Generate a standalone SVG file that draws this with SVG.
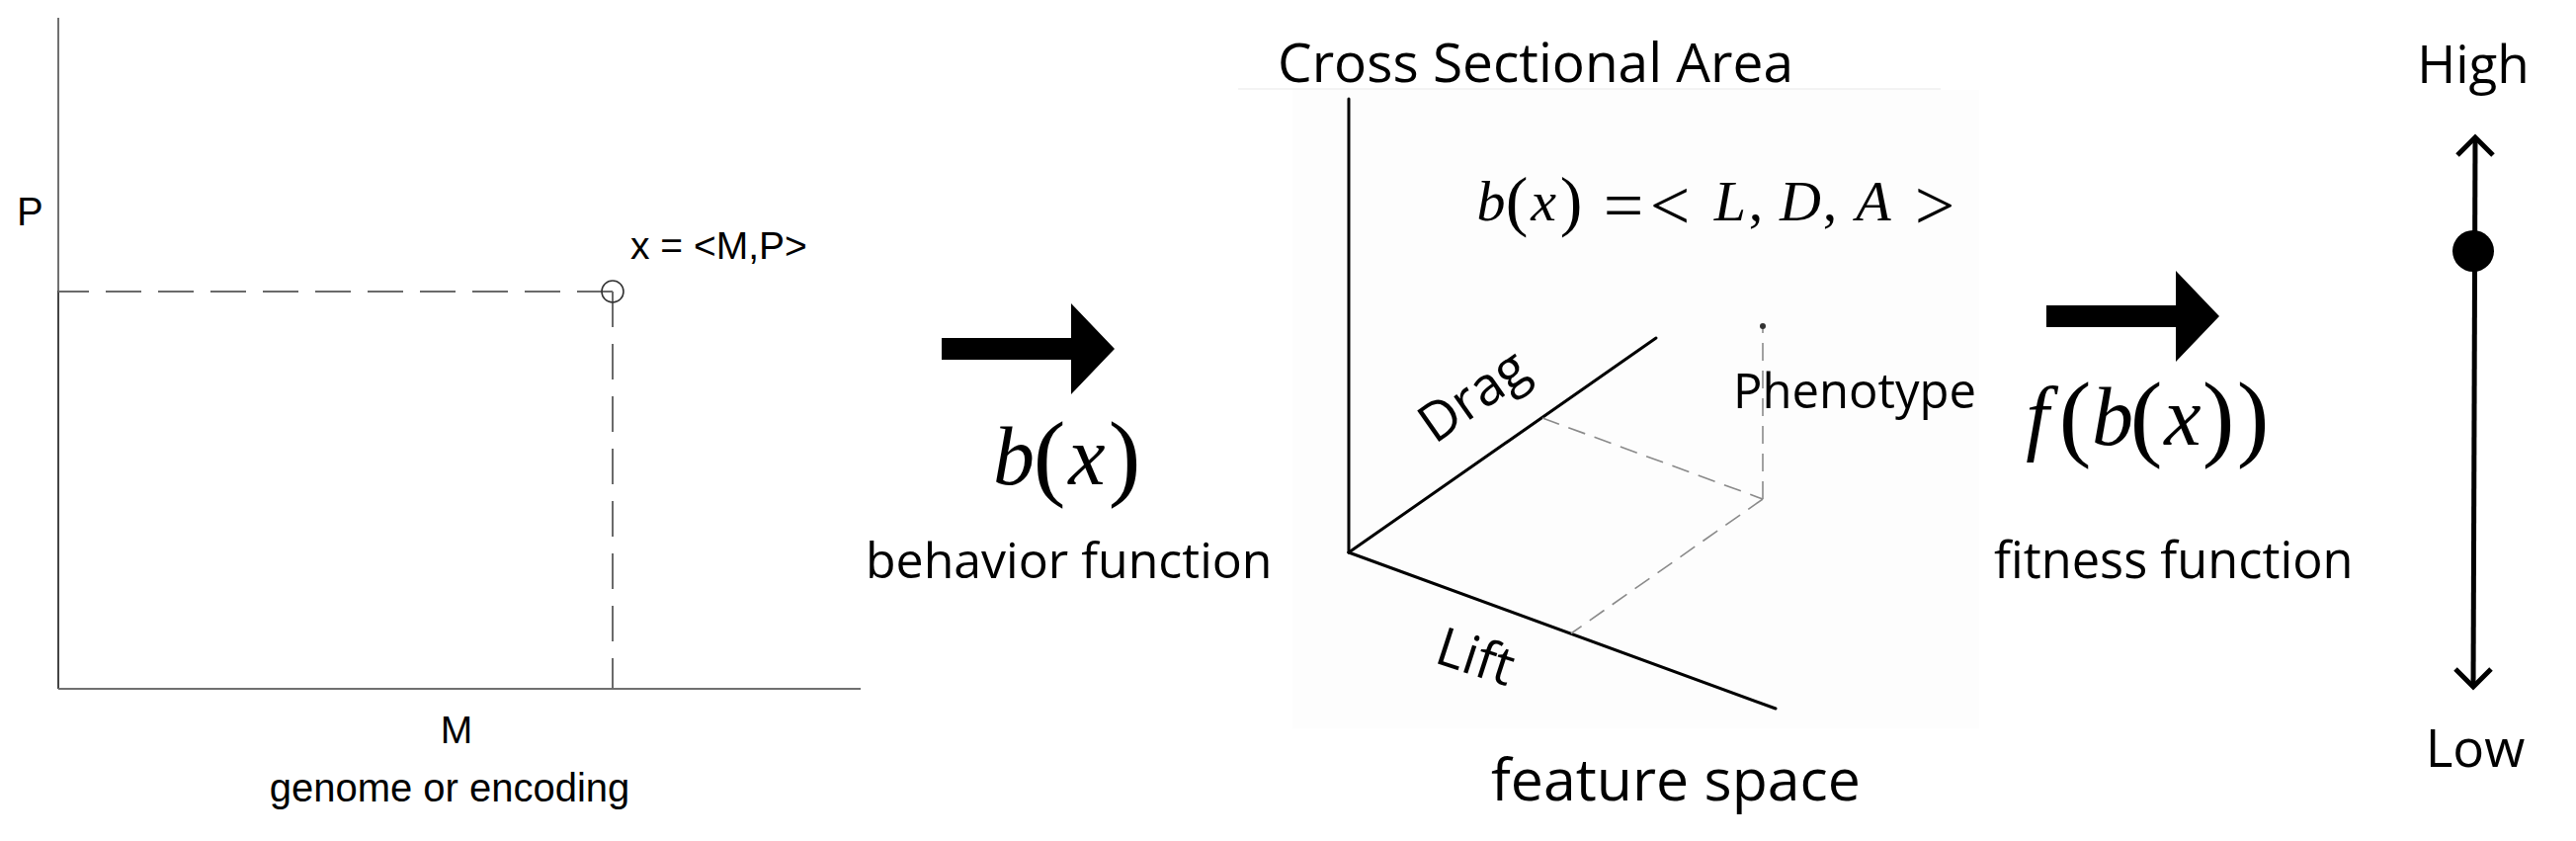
<svg xmlns="http://www.w3.org/2000/svg" width="2607" height="851" viewBox="0 0 2607 851">
<defs>
<style>
.sans{font-family:"Liberation Sans",Arial,sans-serif;fill:#000}
.os{font-family:"Open Sans","Noto Sans",sans-serif;fill:#000}
.m{font-family:"Liberation Serif","Times New Roman",serif;fill:#000}
.mi{font-family:"Liberation Serif","Times New Roman",serif;font-style:italic;fill:#000}
.ax{stroke:#000;stroke-width:3;fill:none;stroke-linecap:round}
.dash3{stroke:#8a8a8a;stroke-width:1.6;stroke-dasharray:18 10;fill:none}
.gax{stroke:#707070;stroke-width:2;fill:none}
.gdash{stroke:#6a6a6a;stroke-width:2;stroke-dasharray:36 17;fill:none}
.bigarrow{fill:#000}
</style>
<path id="arrowShape" d="M0,-11 H131 V-46 L175,0 L131,46 V11 H0 Z"/>
</defs>
<rect width="2607" height="851" fill="#fff"/>

<g id="genome-plot">
<line class="gax" x1="59" y1="18" x2="59" y2="697"/>
<line x1="59" y1="294" x2="59" y2="697" stroke="#444" stroke-width="2"/>
<line class="gax" x1="59" y1="697" x2="871" y2="697" stroke="#555"/>
<line class="gdash" x1="59" y1="295" x2="620" y2="295" stroke-dashoffset="5"/>
<line class="gdash" x1="620" y1="295" x2="620" y2="697"/>
<circle cx="620" cy="295" r="11" fill="none" stroke="#333" stroke-width="1.6"/>
<text class="sans" x="17" y="228" font-size="40">P</text>
<text class="sans" x="638" y="262" font-size="39">x = &lt;M,P&gt;</text>
<text class="sans" x="462" y="752" font-size="39" text-anchor="middle">M</text>
<text class="sans" x="455" y="811" font-size="40" text-anchor="middle">genome or encoding</text>
</g>

<g id="connectors">
<use href="#arrowShape" class="bigarrow" transform="translate(953,353)"/>
<use href="#arrowShape" class="bigarrow" transform="translate(2071,320)"/>
</g>

<g id="behavior-label">
<text class="mi" font-size="84" x="1026" y="490" text-anchor="middle">b</text>
<text class="m" font-size="98" y="494" text-anchor="middle"><tspan x="1062">(</tspan><tspan x="1138">)</tspan></text>
<text class="mi" font-size="84" x="1100" y="490" text-anchor="middle">x</text>
<text class="os" x="876" y="585" font-size="50">behavior function</text>
</g>

<g id="feature-space">
<rect x="1308" y="91" width="695" height="646" fill="#fdfdfd"/>
<line x1="1253" y1="90" x2="1964" y2="90" stroke="#f3f3f3" stroke-width="2"/>
<text class="os" x="1293" y="83" font-size="55">Cross Sectional Area</text>
<line class="ax" x1="1365" y1="100" x2="1365" y2="559"/>
<line class="ax" x1="1365" y1="559" x2="1676" y2="342"/>
<line class="ax" x1="1365" y1="559" x2="1797" y2="717"/>
<line class="dash3" x1="1561" y1="423" x2="1784" y2="505"/>
<line class="dash3" x1="1784" y1="505" x2="1590" y2="641"/>
<line class="dash3" x1="1784" y1="505" x2="1784" y2="330"/>
<circle cx="1784" cy="330" r="3" fill="#333"/>
<text class="os" x="1754" y="413" font-size="49">Phenotype</text>
<text class="os" font-size="54" transform="translate(1452,450) rotate(-35)">Drag</text>
<text class="os" font-size="54" transform="translate(1450,670) rotate(18)">Lift</text>
<text class="os" x="1509" y="810" font-size="59">feature space</text>
<g id="behavior-vector">
<text class="mi" font-size="58" y="223" text-anchor="middle"><tspan x="1509">b</tspan><tspan x="1562">x</tspan><tspan x="1751">L</tspan><tspan x="1822">D</tspan><tspan x="1896">A</tspan></text>
<text class="m" font-size="68" y="226" text-anchor="middle"><tspan x="1535">(</tspan><tspan x="1590">)</tspan></text>
<text class="m" font-size="58" y="223" text-anchor="middle"><tspan x="1777">,</tspan><tspan x="1852">,</tspan></text>
<text class="m" font-size="72" y="232" text-anchor="middle"><tspan x="1643">=</tspan><tspan x="1690">&lt;</tspan><tspan x="1958">&gt;</tspan></text>
</g>
</g>

<g id="fitness-label">
<text class="mi" font-size="84" y="450" text-anchor="middle"><tspan x="2062">f</tspan><tspan x="2138">b</tspan><tspan x="2209">x</tspan></text>
<text class="m" font-size="98" y="454" text-anchor="middle"><tspan x="2100">(</tspan><tspan x="2172">(</tspan><tspan x="2245">)</tspan><tspan x="2280">)</tspan></text>
<text class="os" x="2018" y="585" font-size="50.5">fitness function</text>
</g>

<g id="fitness-scale">
<line x1="2505" y1="139" x2="2503" y2="695" stroke="#000" stroke-width="5"/>
<polyline points="2487,157 2505,139 2523,157" fill="none" stroke="#000" stroke-width="5"/>
<polyline points="2485,677 2503,695 2521,677" fill="none" stroke="#000" stroke-width="5"/>
<circle cx="2503" cy="254" r="21" fill="#000"/>
<text class="os" x="2503" y="84" font-size="53" text-anchor="middle">High</text>
<text class="os" x="2505" y="776" font-size="53" text-anchor="middle">Low</text>
</g>
</svg>
